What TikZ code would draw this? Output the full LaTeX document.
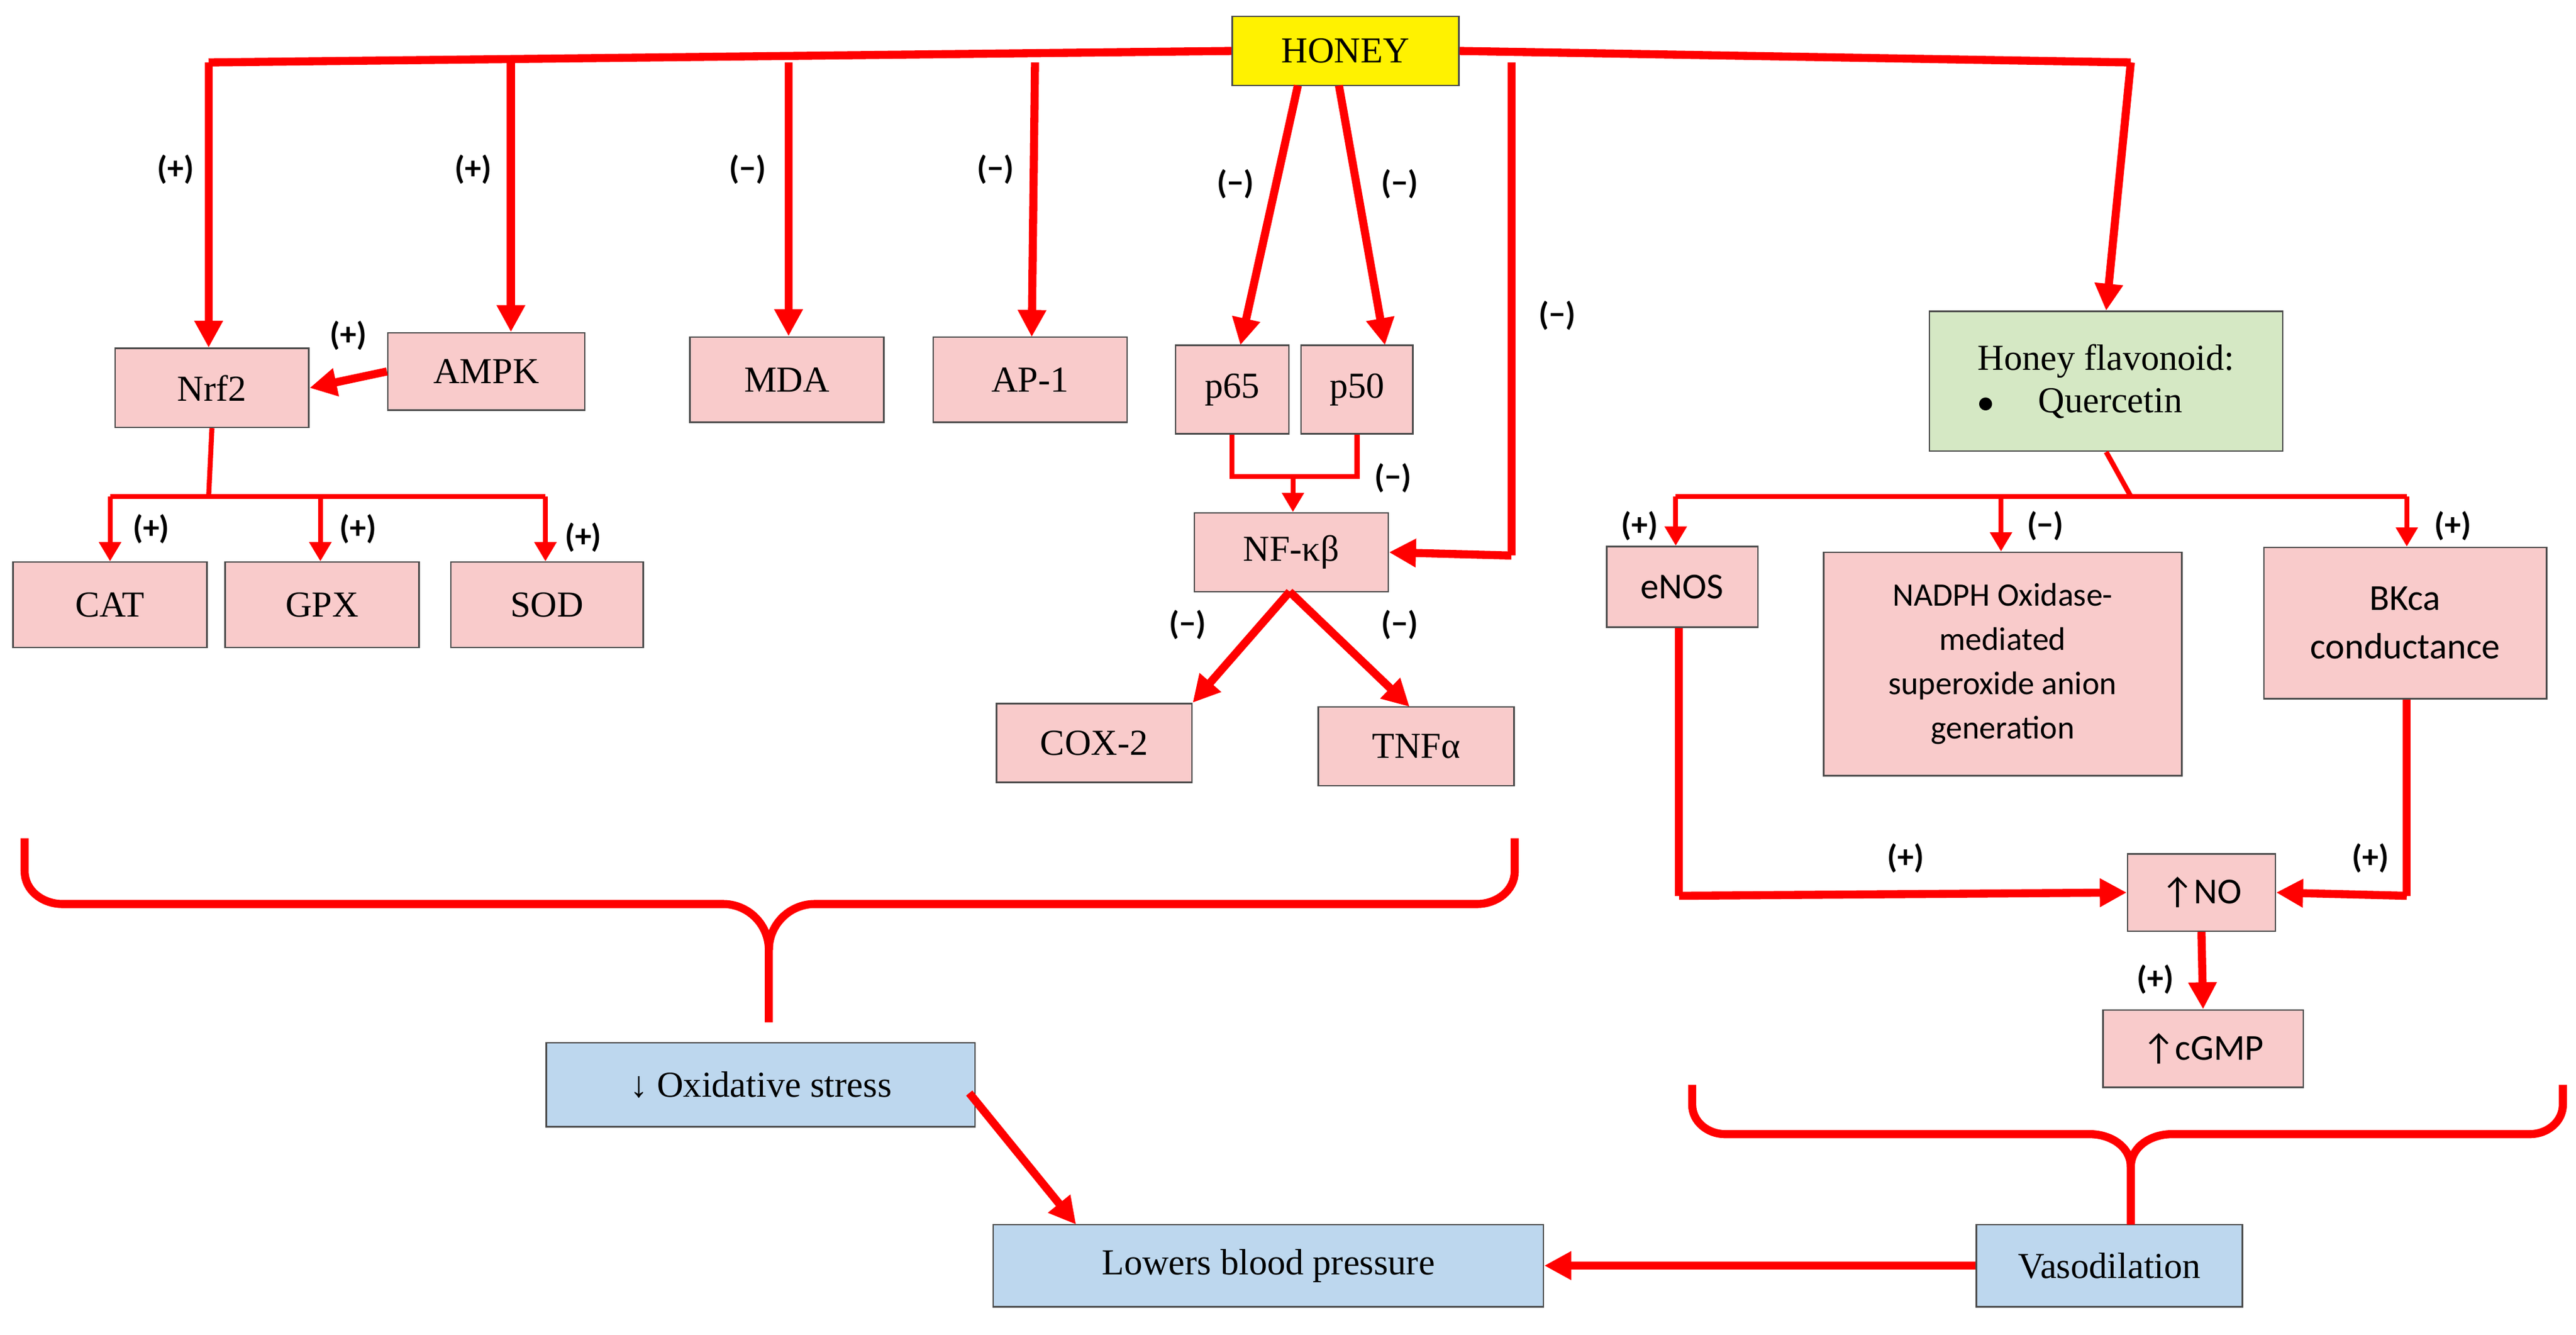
\documentclass[tikz,border=0pt]{standalone}
\usepackage{fontspec}
\setmainfont{Liberation Serif}
\newfontfamily\crl{Carlito}
\usetikzlibrary{arrows.meta}
\definecolor{pk}{HTML}{F9CBCB}
\definecolor{gr}{HTML}{D5E8C4}
\definecolor{bl}{HTML}{BDD7EE}
\definecolor{rd}{HTML}{FF0000}
\begin{document}
\begin{tikzpicture}[x=0.03cm,y=-0.03cm,
 box/.style={draw=black!70,line width=0.8pt,fill=pk,font=\fontsize{19}{22}\selectfont,inner sep=0pt},
 lab/.style={font=\crl\bfseries\fontsize{17}{20}\selectfont},
 th/.style={rd,line width=4.2pt,-{Triangle[length=14pt,width=14pt]}},
 tn/.style={rd,line width=2.6pt,-{Triangle[length=10pt,width=11pt]}},
 ln/.style={rd,line width=4.2pt},
 lnt/.style={rd,line width=2.6pt}]
\useasboundingbox (0,0) rectangle (1568,812);
% boxes
\node[box,fill=yellow,minimum width=138*0.03cm,minimum height=42*0.03cm] (honey) at (819,31) {HONEY};
\node[box,minimum width=118*0.03cm,minimum height=48*0.03cm] (nrf2) at (129,236) {Nrf2};
\node[box,minimum width=120*0.03cm,minimum height=47*0.03cm] (ampk) at (296,226) {AMPK};
\node[box,minimum width=118*0.03cm,minimum height=52*0.03cm] (mda) at (479,231) {MDA};
\node[box,minimum width=118*0.03cm,minimum height=52*0.03cm] (ap1) at (627,231) {AP-1};
\node[box,minimum width=69*0.03cm,minimum height=54*0.03cm] (p65) at (750,237) {p65};
\node[box,minimum width=68*0.03cm,minimum height=54*0.03cm] (p50) at (826,237) {p50};
\node[box,minimum width=118*0.03cm,minimum height=48*0.03cm] (nf) at (786,336) {NF-κβ};
\node[box,minimum width=119*0.03cm,minimum height=48*0.03cm] (cox) at (666,452) {COX-2};
\node[box,minimum width=119*0.03cm,minimum height=48*0.03cm] (tnf) at (862,454) {TNFα};
\node[box,minimum width=118*0.03cm,minimum height=52*0.03cm] (cat) at (67,368) {CAT};
\node[box,minimum width=118*0.03cm,minimum height=52*0.03cm] (gpx) at (196,368) {GPX};
\node[box,minimum width=117*0.03cm,minimum height=52*0.03cm] (sod) at (333,368) {SOD};
\node[box,fill=gr,minimum width=215*0.03cm,minimum height=85*0.03cm,align=left] (flav) at (1282,232) {Honey flavonoid:\\$\bullet$\hspace{1.2em}Quercetin};
\node[box,minimum width=92*0.03cm,minimum height=49*0.03cm,font=\crl\fontsize{19}{22}\selectfont] (enos) at (1024,357) {eNOS};
\node[box,minimum width=218*0.03cm,minimum height=136*0.03cm,align=center,font=\crl\fontsize{17}{23}\selectfont] (nadph) at (1219,404) {NADPH Oxidase-\\mediated\\superoxide anion\\generation};
\node[box,minimum width=172*0.03cm,minimum height=92*0.03cm,align=center,font=\crl\fontsize{19}{25}\selectfont] (bk) at (1464,379) {BKca\\conductance};
\node[box,minimum width=90*0.03cm,minimum height=47*0.03cm,font=\crl\fontsize{19}{22}\selectfont] (no) at (1340,543) {↑NO};
\node[box,minimum width=122*0.03cm,minimum height=47*0.03cm,font=\crl\fontsize{19}{22}\selectfont] (cgmp) at (1341,638) {↑cGMP};
\node[box,fill=bl,minimum width=261*0.03cm,minimum height=51*0.03cm] (ox) at (463,660) {↓ Oxidative stress};
\node[box,fill=bl,minimum width=335*0.03cm,minimum height=50*0.03cm] (bp) at (772,770) {Lowers blood pressure};
\node[box,fill=bl,minimum width=162*0.03cm,minimum height=50*0.03cm] (vaso) at (1284,770) {Vasodilation};
% top line
\coordinate (tl) at (127,38); \coordinate (tr) at (1297,38);
\draw[ln] (honey.west) -- (tl);
\draw[ln] (honey.east) -- (tr);
\draw[th] (tl) -- (nrf2.north-|tl);
\draw[th] (311,38) -- (ampk.north-|311,0);
\draw[th] (480,38) -- (mda.north-|480,0);
\draw[th] (630,38) -- (628,205);
\draw[th] (790,52) -- (755,210);
\draw[th] (815,52) -- (843,210);
\draw[ln] (920,38) -- (920,338);
\draw[th] (920,338) -- (nf.east);
\draw[th] (tr) -- (flav.north);
\node[lab] (l1) at (107,103) {(+)};
\node[lab] (l2) at (288,103) {(+)};
\node[lab] (l3) at (455,103) {(−)};
\node[lab] (l4) at (606,103) {(−)};
\node[lab] (l5) at (752,112) {(−)};
\node[lab] (l6) at (852,112) {(−)};
\node[lab] (l7) at (948,192) {(−)};
% AMPK -> Nrf2
\draw[th] (ampk.west) -- (nrf2.east);
\node[lab] (l8) at (212,204) {(+)};
% Nrf2 children
\draw[lnt] (nrf2.south) -- (127,302);
\draw[lnt] (67,302) -- (332,302);
\draw[tn] (67,302) -- (cat.north-|67,0);
\draw[tn] (195,302) -- (gpx.north-|195,0);
\draw[tn] (332,302) -- (sod.north-|332,0);
\node[lab] at (92,322) {(+)};
\node[lab] at (218,322) {(+)};
\node[lab] at (355,327) {(+)};
% p65/p50 -> NF
\draw[lnt] (p65.south) -- (750,290) -- (826,290) -- (p50.south);
\draw[tn] (787,290) -- (nf.north-|787,0);
\node[lab] at (848,291) {(−)};
\draw[th] (785,360) -- (cox.north east);
\draw[th] (785,360) -- (858,430);
\node[lab] at (723,380) {(−)};
\node[lab] at (852,380) {(−)};
% flavonoid children
\draw[lnt] (flav.south) -- (1297,302);
\draw[lnt] (1020,302) -- (1465,302);
\draw[tn] (1020,302) -- (enos.north-|1020,0);
\draw[tn] (1218,302) -- (nadph.north-|1218,0);
\draw[tn] (1465,302) -- (bk.north-|1465,0);
\node[lab] at (998,320) {(+)};
\node[lab] at (1245,320) {(−)};
\node[lab] at (1493,320) {(+)};
\draw[ln] (enos.south-|1022,0) -- (1022,545);
\draw[th] (1022,545) -- (no.west);
\draw[ln] (bk.south-|1465,0) -- (1465,545);
\draw[th] (1465,545) -- (no.east);
\node[lab] at (1160,522) {(+)};
\node[lab] at (1443,522) {(+)};
\draw[th] (no.south) -- (cgmp.north);
\node[lab] at (1312,596) {(+)};
% braces
\draw[ln,line join=round] (15,510) -- (15,530) to[out=-90,in=180] (38,550) -- (440,550) to[out=0,in=90] (468,578) -- (468,622);
\draw[ln] (922,510) -- (922,530) to[out=-90,in=0] (899,550) -- (496,550) to[out=180,in=90] (468,578);
\draw[ln] (1030,660) -- (1030,672) to[out=-90,in=180] (1050,690) -- (1272,690) to[out=0,in=90] (1297,710) -- (1297,745);
\draw[ln] (1560,660) -- (1560,672) to[out=-90,in=0] (1540,690) -- (1322,690) to[out=180,in=90] (1297,710);
% bottom arrows
\draw[th] (ox.east) ++(-4,5) -- (655,745);
\draw[th] (vaso.west) -- (bp.east);
\end{tikzpicture}
\end{document}
